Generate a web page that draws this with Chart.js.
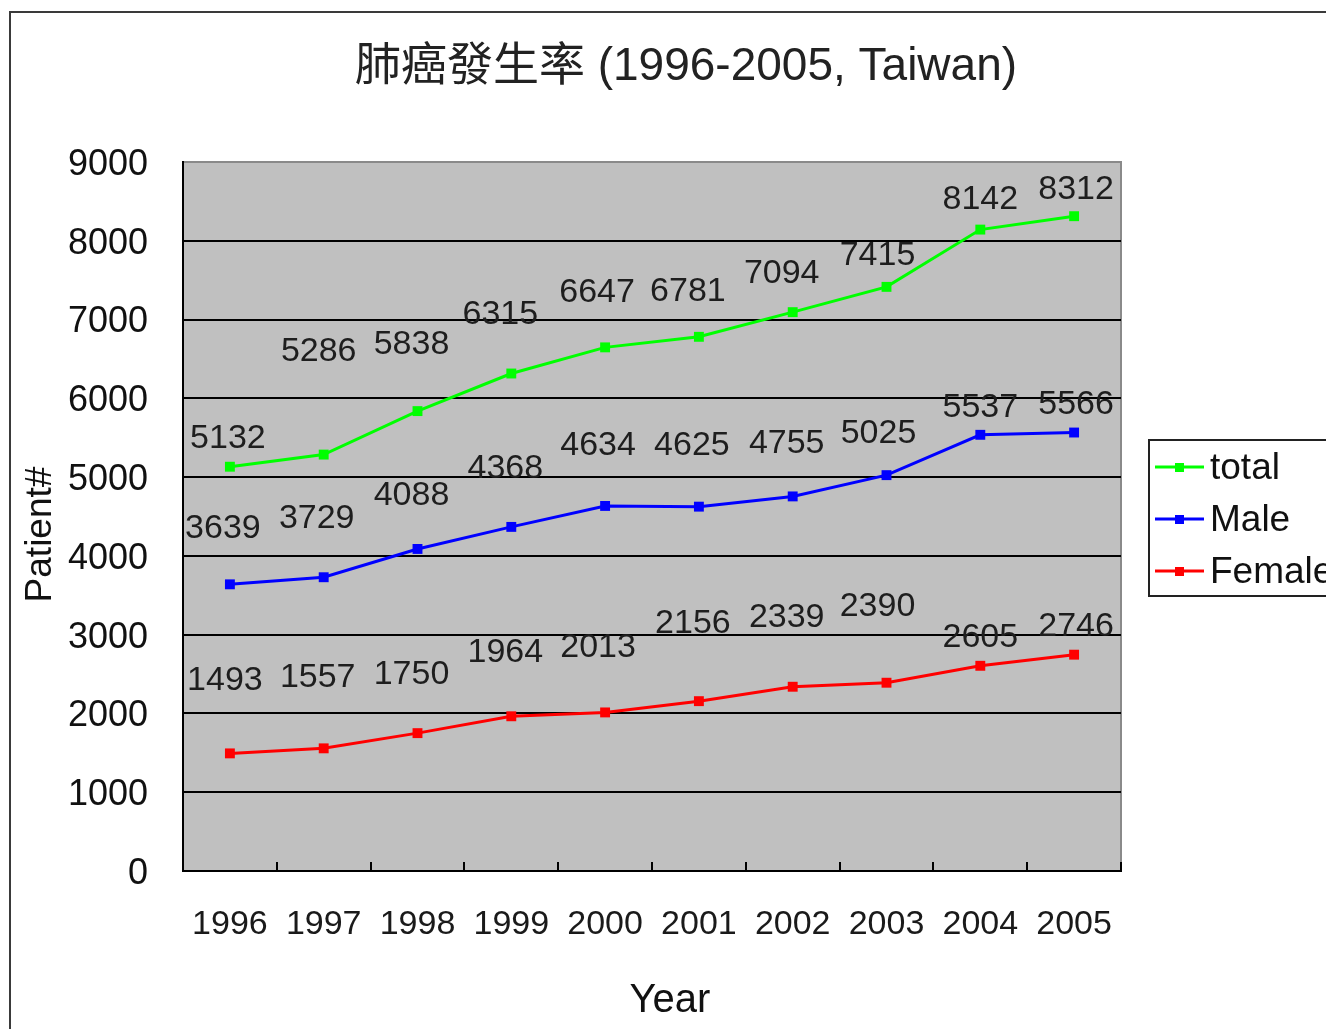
<!DOCTYPE html>
<html>
<head>
<meta charset="utf-8">
<title>肺癌發生率 (1996-2005, Taiwan)</title>
<script src="https://cdn.jsdelivr.net/npm/chart.js@4/dist/chart.umd.min.js"></script>
<style>
  html, body { margin: 0; padding: 0; background: #ffffff; overflow: hidden; }
  #wrap { position: relative; width: 1372px; height: 1060px; }
</style>
</head>
<body>
<div id="wrap"><canvas id="chart"></canvas></div>
<script>
// Lung cancer incidence in Taiwan, patients per year
const years = ['1996', '1997', '1998', '1999', '2000', '2001', '2002', '2003', '2004', '2005'];
const totalCases = [5132, 5286, 5838, 6315, 6647, 6781, 7094, 7415, 8142, 8312];
const maleCases = [3639, 3729, 4088, 4368, 4634, 4625, 4755, 5025, 5537, 5566];
const femaleCases = [1493, 1557, 1750, 1964, 2013, 2156, 2339, 2390, 2605, 2746];
const seriesNames = ['total', 'Male', 'Female'];
const yTicks = [0, 1000, 2000, 3000, 4000, 5000, 6000, 7000, 8000, 9000];
const chartTitle = '肺癌發生率 (1996-2005, Taiwan)';
const xTitle = 'Year';
const yTitle = 'Patient#';

// Value-label placement: [dx, dy] in pixels relative to each point
const labelShift = [
  [[-2, -28], [-5, -103], [-6, -66], [-11, -59], [-8, -55], [-11, -45], [-11, -39], [-9, -31], [0, -30], [2, -27]],
  [[-7, -56], [-7, -59], [-6, -53], [-6, -58], [-7, -60], [-7, -61], [-6, -53], [-8, -42], [0, -27], [2, -28]],
  [[-5, -73], [-6, -71], [-6, -59], [-6, -64], [-7, -65], [-6, -78], [-6, -69], [-9, -76], [0, -28], [2, -28]]
];

const FONT = "'Liberation Sans', Arial, sans-serif";
Chart.defaults.font.family = FONT;
Chart.defaults.color = '#1a1a1a';

// Outer frame, grey plot area and its light top/right edge
const backdrop = {
  id: 'backdrop',
  beforeDraw(chart) {
    const { ctx, chartArea: a } = chart;
    ctx.save();
    ctx.strokeStyle = '#3a3a3a';
    ctx.lineWidth = 2;
    ctx.strokeRect(10, 12, chart.width - 20, chart.height - 24);
    ctx.fillStyle = '#c0c0c0';
    ctx.fillRect(a.left, a.top, a.right - a.left, a.bottom - a.top);
    ctx.strokeStyle = '#8a8a8a';
    ctx.lineWidth = 2;
    ctx.beginPath();
    ctx.moveTo(a.left, a.top);
    ctx.lineTo(a.right, a.top);
    ctx.lineTo(a.right, a.bottom);
    ctx.stroke();
    ctx.restore();
  }
};

// Chart title and axis titles
const titles = {
  id: 'titles',
  afterDraw(chart) {
    const { ctx, chartArea: a } = chart;
    ctx.save();
    ctx.textAlign = 'center';
    ctx.textBaseline = 'middle';
    ctx.fillStyle = '#222222';
    ctx.font = "46px 'Liberation Sans', 'Noto Sans CJK TC', sans-serif";
    ctx.fillText(chartTitle, 686, 67);
    ctx.fillStyle = '#111111';
    ctx.font = '40px ' + FONT;
    ctx.fillText(xTitle, (a.left + a.right) / 2 + 18, 1001);
    ctx.translate(41, (a.top + a.bottom) / 2 + 18);
    ctx.rotate(-Math.PI / 2);
    ctx.font = '37px ' + FONT;
    ctx.fillText(yTitle, 0, 0);
    ctx.restore();
  }
};

// Numbers written above each point
const valueLabels = {
  id: 'valueLabels',
  afterDatasetsDraw(chart) {
    const { ctx } = chart;
    ctx.save();
    ctx.font = '34px ' + FONT;
    ctx.fillStyle = '#1e1e1e';
    ctx.textAlign = 'center';
    ctx.textBaseline = 'middle';
    chart.data.datasets.forEach((ds, di) => {
      const meta = chart.getDatasetMeta(di);
      meta.data.forEach((pt, i) => {
        const [dx, dy] = labelShift[di][i];
        ctx.fillText(String(ds.data[i]), pt.x + dx, pt.y + dy);
      });
    });
    ctx.restore();
  }
};

// Boxed legend to the right of the plot
const boxLegend = {
  id: 'boxLegend',
  afterDraw(chart) {
    const { ctx } = chart;
    const left = 1149, top = 440, w = 200, h = 156;
    ctx.save();
    ctx.fillStyle = '#ffffff';
    ctx.fillRect(left, top, w, h);
    ctx.strokeStyle = '#222222';
    ctx.lineWidth = 2;
    ctx.strokeRect(left, top, w, h);
    ctx.font = '37px ' + FONT;
    ctx.textBaseline = 'middle';
    ctx.textAlign = 'left';
    chart.data.datasets.forEach((ds, i) => {
      const y = top + 27 + i * 52;
      ctx.strokeStyle = ds.borderColor;
      ctx.lineWidth = 3;
      ctx.beginPath();
      ctx.moveTo(left + 6, y);
      ctx.lineTo(left + 55, y);
      ctx.stroke();
      ctx.fillStyle = ds.borderColor;
      ctx.fillRect(left + 26, y - 4, 9, 9);
      ctx.fillStyle = '#111111';
      ctx.fillText(ds.label, left + 61, y + 2);
    });
    ctx.restore();
  }
};

const colors = ['#00ff00', '#0000ff', '#ff0000'];
const series = [totalCases, maleCases, femaleCases];

new Chart(document.getElementById('chart'), {
  type: 'line',
  data: {
    labels: years,
    datasets: series.map((vals, i) => ({
      label: seriesNames[i],
      data: vals,
      borderColor: colors[i],
      backgroundColor: colors[i],
      borderWidth: 3,
      tension: 0,
      pointStyle: 'rect',
      pointRadius: 7,
      pointBorderWidth: 0,
      pointBackgroundColor: colors[i],
      fill: false
    }))
  },
  options: {
    responsive: true,
    maintainAspectRatio: false,
    animation: false,
    layout: { padding: { left: 0, right: 251, top: 162, bottom: 0 } },
    plugins: {
      legend: { display: false },
      tooltip: { enabled: false },
      title: { display: false }
    },
    scales: {
      x: {
        type: 'category',
        offset: true,
        afterFit(scale) { scale.height = 189; },
        grid: {
          display: true,
          offset: true,
          drawOnChartArea: false,
          drawTicks: true,
          tickLength: -9,
          color: '#000000',
          lineWidth: 2
        },
        border: { display: true, color: '#000000', width: 2 },
        ticks: { font: { size: 34 }, color: '#1a1a1a', padding: 42, maxRotation: 0, autoSkip: false }
      },
      y: {
        min: yTicks[0],
        max: yTicks[yTicks.length - 1],
        afterFit(scale) { scale.width = 183; },
        afterBuildTicks(scale) { scale.ticks = yTicks.map(v => ({ value: v })); },
        grid: {
          drawTicks: false,
          color: ctx => (ctx.tick && ctx.tick.value === yTicks[yTicks.length - 1]) ? 'rgba(0,0,0,0)' : '#000000',
          lineWidth: 2
        },
        border: { display: true, color: '#000000', width: 2 },
        ticks: {
          font: { size: 36 },
          color: '#111111',
          padding: 35,
          labelOffset: 3,
          callback: v => String(v)
        }
      }
    }
  },
  plugins: [backdrop, valueLabels, boxLegend, titles]
});
</script>
</body>
</html>
